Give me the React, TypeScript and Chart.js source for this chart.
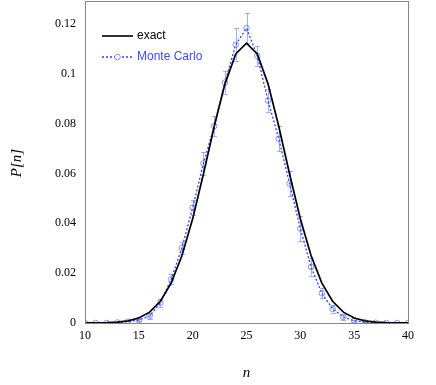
import React, { useEffect, useRef } from "react";
import { Chart, registerables } from "chart.js";

Chart.register(...registerables);

const nValues = [10, 11, 12, 13, 14, 15, 16, 17, 18, 19, 20, 21, 22, 23, 24, 25, 26, 27, 28, 29, 30, 31, 32, 33, 34, 35, 36, 37, 38, 39, 40];
const exactP = [0.0000115, 0.0000386, 0.000118, 0.00033, 0.000847, 0.001999, 0.004344, 0.008716, 0.016014, 0.026995, 0.041859, 0.059803, 0.078855, 0.095961, 0.107957, 0.112275, 0.107957, 0.095961, 0.078855, 0.059803, 0.041859, 0.026995, 0.016014, 0.008716, 0.004344, 0.001999, 0.000847, 0.00033, 0.000118, 0.0000386, 0.0000115];
const monteCarloP = [0, 0, 0, 0.0002, 0.0005, 0.0012, 0.0028, 0.0081, 0.0175, 0.0301, 0.0463, 0.064, 0.079, 0.0965, 0.1117, 0.1183, 0.1072, 0.0892, 0.0739, 0.0559, 0.0379, 0.0225, 0.0119, 0.0057, 0.0024, 0.0009, 0.0003, 0.0001, 0, 0, 0];
const monteCarloErr = [0, 0, 0, 0.0002, 0.0003, 0.0005, 0.001, 0.0015, 0.002, 0.0025, 0.003, 0.0045, 0.004, 0.0045, 0.0065, 0.006, 0.004, 0.0045, 0.005, 0.005, 0.005, 0.0035, 0.002, 0.0015, 0.001, 0.0005, 0.0003, 0.0002, 0, 0, 0];
const yTicks = [0, 0.02, 0.04, 0.06, 0.08, 0.1, 0.12];
const xTicks = [10, 15, 20, 25, 30, 35, 40];
const seriesLabels = ["exact", "Monte Carlo"];
const xTitle = "n";
const yTitle = "P[n]";

const MC_LINE = "#2b3dff";
const MC_MARK = "rgba(95,115,255,0.75)";
const MC_ERR = "rgba(110,130,255,0.65)";

export default function App() {
  const ref = useRef<HTMLCanvasElement | null>(null);

  useEffect(() => {
    if (!ref.current) return;

    const decorPlugin = {
      id: "decor",
      beforeDatasetsDraw(chart: any) {
        const ctx = chart.ctx;
        const xs = chart.scales.x;
        const ys = chart.scales.y;
        ctx.save();
        ctx.strokeStyle = MC_ERR;
        ctx.lineWidth = 1;
        for (let i = 0; i < nValues.length; i++) {
          const e = monteCarloErr[i];
          if (!e) continue;
          const px = Math.round(xs.getPixelForValue(nValues[i])) + 0.5;
          const top = ys.getPixelForValue(monteCarloP[i] + e);
          const bot = ys.getPixelForValue(Math.max(0, monteCarloP[i] - e));
          ctx.beginPath();
          ctx.moveTo(px, top);
          ctx.lineTo(px, bot);
          ctx.moveTo(px - 2.5, Math.round(top) + 0.5);
          ctx.lineTo(px + 2.5, Math.round(top) + 0.5);
          ctx.moveTo(px - 2.5, Math.round(bot) + 0.5);
          ctx.lineTo(px + 2.5, Math.round(bot) + 0.5);
          ctx.stroke();
        }
        ctx.restore();
      },
      afterDraw(chart: any) {
        const ctx = chart.ctx;
        const a = chart.chartArea;
        ctx.save();
        // frame
        ctx.strokeStyle = "#858585";
        ctx.lineWidth = 1;
        ctx.strokeRect(Math.round(a.left) + 0.5, Math.round(a.top) + 0.5, Math.round(a.right - a.left), Math.round(a.bottom - a.top));
        // legend
        ctx.lineWidth = 1.6;
        ctx.strokeStyle = "#000";
        ctx.beginPath();
        ctx.moveTo(102, 36);
        ctx.lineTo(133, 36);
        ctx.stroke();
        ctx.font = "12px 'Liberation Sans', Arial, sans-serif";
        ctx.textBaseline = "middle";
        ctx.textAlign = "left";
        ctx.fillStyle = "#000";
        ctx.fillText(seriesLabels[0], 137, 36);
        ctx.strokeStyle = MC_LINE;
        ctx.lineWidth = 1.3;
        ctx.setLineDash([2, 2]);
        ctx.beginPath();
        ctx.moveTo(102, 57);
        ctx.lineTo(133, 57);
        ctx.stroke();
        ctx.setLineDash([]);
        ctx.strokeStyle = MC_MARK;
        ctx.lineWidth = 1;
        ctx.beginPath();
        ctx.arc(117.5, 57, 2.8, 0, Math.PI * 2);
        ctx.fillStyle = "#fff";
        ctx.fill();
        ctx.stroke();
        ctx.fillStyle = "#3a4cff";
        ctx.fillText(seriesLabels[1], 137, 57);
        // axis titles
        ctx.fillStyle = "#000";
        ctx.font = "italic 15px 'Liberation Serif', 'Times New Roman', serif";
        ctx.textAlign = "center";
        ctx.fillText(xTitle, (a.left + a.right) / 2, 373);
        ctx.translate(17, 163);
        ctx.rotate(-Math.PI / 2);
        ctx.fillText(yTitle, 0, 0);
        ctx.restore();
      },
    };

    const tickFont = { family: "'Liberation Serif', 'Times New Roman', serif", size: 12 };

    const chart = new Chart(ref.current, {
      type: "line",
      data: {
        datasets: [
          {
            label: seriesLabels[0],
            data: nValues.map((n, i) => ({ x: n, y: exactP[i] })),
            borderColor: "#000",
            borderWidth: 1.7,
            pointRadius: 0,
            tension: 0,
            fill: false,
          },
          {
            label: seriesLabels[1],
            data: nValues.map((n, i) => ({ x: n, y: monteCarloP[i] })),
            borderColor: MC_LINE,
            borderWidth: 1.3,
            borderDash: [2, 2],
            pointRadius: 2.8,
            pointBorderColor: MC_MARK,
            pointBackgroundColor: "rgba(255,255,255,0)",
            pointBorderWidth: 1,
            tension: 0,
            fill: false,
          },
        ],
      },
      options: {
        responsive: false,
        animation: false,
        layout: { autoPadding: false, padding: { left: 0, top: 1, right: 28, bottom: 0 } },
        plugins: { legend: { display: false }, tooltip: { enabled: false } },
        scales: {
          x: {
            type: "linear",
            min: 10,
            max: 40,
            grid: { display: false, drawTicks: false },
            border: { display: false },
            afterBuildTicks: (s: any) => {
              s.ticks = xTicks.map((v) => ({ value: v }));
            },
            afterFit: (s: any) => {
              s.height = 62;
              s.paddingLeft = 0;
              s.paddingRight = 0;
            },
            ticks: {
              font: tickFont,
              color: "#000",
              padding: 6,
              maxRotation: 0,
              autoSkip: false,
              callback: (v: any) => String(v),
            },
          },
          y: {
            type: "linear",
            min: 0,
            max: 0.1292,
            grid: { display: false, drawTicks: false },
            border: { display: false },
            afterBuildTicks: (s: any) => {
              s.ticks = yTicks.map((v) => ({ value: v }));
            },
            afterFit: (s: any) => {
              s.width = 85;
              s.paddingTop = 0;
              s.paddingBottom = 0;
            },
            ticks: {
              font: tickFont,
              color: "#000",
              padding: 9,
              autoSkip: false,
              callback: (v: any) => String(+Number(v).toFixed(3)),
            },
          },
        },
      },
      plugins: [decorPlugin],
    } as any);

    return () => chart.destroy();
  }, []);

  return (
    <div style={{ position: "absolute", left: 0, top: 0, width: 436, height: 385, background: "#fff" }}>
      <canvas ref={ref} width={436} height={385} style={{ width: 436, height: 385, display: "block" }} />
    </div>
  );
}
